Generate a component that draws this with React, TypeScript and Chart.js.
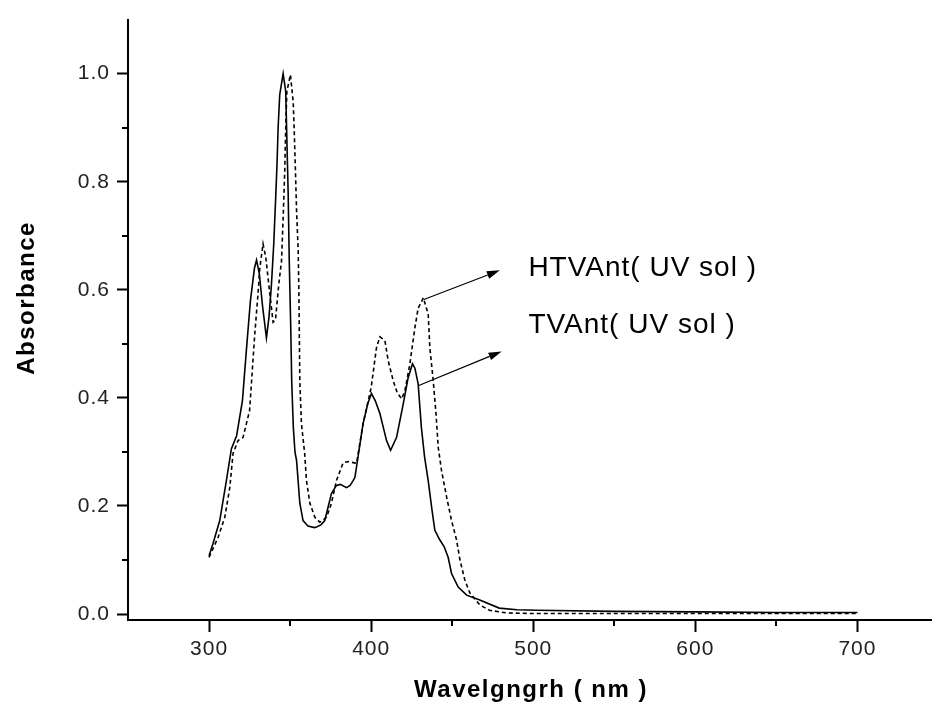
import React, { useEffect, useRef } from "react";
import { Chart, registerables } from "chart.js";

Chart.register(...registerables);

// TVAnt (solid line)
const tvWavelength = [
  300, 302.5, 306.6, 310.7, 313.8, 317, 320.6, 323, 325.5, 328, 329.3, 331, 333, 335.4, 337, 338.5,
  339.9, 341.2, 342, 342.6, 343.6, 345.7, 347.3, 348.8, 349.5, 350.4, 351, 352, 353, 354, 356, 358,
  361, 365, 366.3, 369, 371.4, 375.5, 378.6, 381, 384.8, 387, 388.9, 390, 395, 398, 400.2, 402.5,
  405.4, 409.5, 412, 415.7, 419.8, 422.8, 425.5, 427, 429, 431, 433, 435.2, 437.3, 439.3, 442.4, 445,
  447.5, 449.6, 453.7, 458.9, 467, 479, 490, 502, 550, 600, 650, 700,
];
const tvAbsorbance = [
  0.108, 0.131, 0.173, 0.247, 0.306, 0.33, 0.395, 0.487, 0.579, 0.64, 0.655, 0.63, 0.57, 0.511, 0.55, 0.61,
  0.684, 0.777, 0.838, 0.899, 0.961, 1.0, 0.967, 0.78, 0.65, 0.53, 0.43, 0.345, 0.3, 0.284, 0.205, 0.173,
  0.163, 0.16, 0.161, 0.165, 0.173, 0.223, 0.238, 0.24, 0.234, 0.238, 0.247, 0.253, 0.352, 0.39, 0.408, 0.395,
  0.371, 0.321, 0.303, 0.327, 0.389, 0.437, 0.463, 0.455, 0.426, 0.345, 0.29, 0.247, 0.198, 0.155, 0.137, 0.125,
  0.105, 0.075, 0.05, 0.035, 0.026, 0.011, 0.008, 0.007, 0.005, 0.004, 0.003, 0.003,
];

// HTVAnt (dashed line)
const htvWavelength = [
  300, 305.6, 309.7, 312.8, 314.8, 317.9, 321, 323, 325, 326.8, 328.2, 330.2, 331.3, 333.3, 335, 336.4,
  339.5, 341, 343, 344.7, 345.7, 346.7, 347.3, 348, 350.2, 351.9, 352.5, 353.3, 354, 355, 355.4, 356,
  357, 359, 360.1, 362.2, 365.3, 368.3, 372.5, 375.5, 378.6, 382.7, 386, 391, 395, 400, 403.3, 405.4,
  408.5, 410.5, 413.6, 416, 418.8, 420.8, 423.9, 427, 429, 432.2, 435.2, 436.2, 438.3, 440, 441.4, 443.5,
  446.6, 449.6, 452.7, 454.8, 457.8, 460.9, 467, 473, 483.7, 500, 600, 700,
];
const htvAbsorbance = [
  0.105, 0.142, 0.179, 0.234, 0.297, 0.321, 0.327, 0.352, 0.376, 0.456, 0.518, 0.592, 0.64, 0.685, 0.66, 0.622,
  0.54, 0.545, 0.61, 0.653, 0.732, 0.82, 0.9, 0.967, 0.998, 0.948, 0.9, 0.82, 0.745, 0.672, 0.6, 0.43,
  0.352, 0.297, 0.247, 0.205, 0.179, 0.17, 0.179, 0.205, 0.247, 0.28, 0.282, 0.279, 0.352, 0.419, 0.493, 0.513,
  0.506, 0.469, 0.432, 0.41, 0.398, 0.413, 0.463, 0.53, 0.566, 0.585, 0.555, 0.493, 0.432, 0.371, 0.308, 0.264,
  0.216, 0.173, 0.137, 0.1, 0.063, 0.039, 0.017, 0.007, 0.002, 0.001, 0.001, 0.001,
];

const xMajorTicks = [300, 400, 500, 600, 700];
const xMinorTicks = [350, 450, 550, 650];
const yMajorTicks = [0, 0.2, 0.4, 0.6, 0.8, 1.0];
const yMinorTicks = [0.1, 0.3, 0.5, 0.7, 0.9];

const xTitle = "Wavelgngrh ( nm )";
const yTitle = "Absorbance";
const seriesLabels = ["TVAnt( UV sol )", "HTVAnt( UV sol )"];
const arrowFromX = [429, 432.5];
const arrowFromY = [0.4225, 0.582];
const arrowToX = [480.5, 479.4];
const arrowToY = [0.486, 0.636];
const labelX = [497, 497];
const labelY = [0.535, 0.64];

const FONT = '"Liberation Sans", Arial, sans-serif';

const spacingPlugin = {
  id: "tickLetterSpacing",
  beforeDraw(chart: any) {
    (chart.ctx as any).letterSpacing = "1px";
  },
};

const annotationPlugin = {
  id: "annotationsAndMinorTicks",
  afterDraw(chart: any) {
    const { ctx, scales, chartArea } = chart;
    const xs = scales.x;
    const ys = scales.y;
    ctx.save();
    ctx.strokeStyle = "#000";
    ctx.lineWidth = 2;
    // minor ticks
    xMinorTicks.forEach((v) => {
      const px = Math.round(xs.getPixelForValue(v));
      ctx.beginPath();
      ctx.moveTo(px, chartArea.bottom);
      ctx.lineTo(px, chartArea.bottom + 6);
      ctx.stroke();
    });
    yMinorTicks.forEach((v) => {
      const py = Math.round(ys.getPixelForValue(v));
      ctx.beginPath();
      ctx.moveTo(chartArea.left - 6, py);
      ctx.lineTo(chartArea.left, py);
      ctx.stroke();
    });
    // arrows
    ctx.lineWidth = 1.2;
    ctx.fillStyle = "#000";
    for (let i = 0; i < arrowFromX.length; i++) {
      const x1 = xs.getPixelForValue(arrowFromX[i]);
      const y1 = ys.getPixelForValue(arrowFromY[i]);
      const x2 = xs.getPixelForValue(arrowToX[i]);
      const y2 = ys.getPixelForValue(arrowToY[i]);
      const ang = Math.atan2(y2 - y1, x2 - x1);
      const len = 13;
      const hw = 4;
      const bx = x2 - len * Math.cos(ang);
      const by = y2 - len * Math.sin(ang);
      ctx.beginPath();
      ctx.moveTo(x1, y1);
      ctx.lineTo(bx, by);
      ctx.stroke();
      ctx.beginPath();
      ctx.moveTo(x2, y2);
      ctx.lineTo(bx + hw * Math.sin(ang), by - hw * Math.cos(ang));
      ctx.lineTo(bx - hw * Math.sin(ang), by + hw * Math.cos(ang));
      ctx.closePath();
      ctx.fill();
    }
    // series labels
    ctx.font = `28px ${FONT}`;
    (ctx as any).letterSpacing = "1px";
    ctx.textAlign = "left";
    ctx.textBaseline = "middle";
    for (let i = 0; i < seriesLabels.length; i++) {
      ctx.fillText(seriesLabels[i], xs.getPixelForValue(labelX[i]), ys.getPixelForValue(labelY[i]));
    }
    // axis titles
    ctx.font = `bold 24px ${FONT}`;
    (ctx as any).letterSpacing = "1.5px";
    ctx.textAlign = "center";
    ctx.textBaseline = "middle";
    ctx.fillText(xTitle, (chartArea.left + chartArea.right) / 2 + 1, 690);
    ctx.translate(27, 298);
    ctx.rotate(-Math.PI / 2);
    ctx.fillText(yTitle, 0, 0);
    ctx.restore();
  },
};

export default function App() {
  const canvasRef = useRef<HTMLCanvasElement | null>(null);

  useEffect(() => {
    const canvas = canvasRef.current;
    if (!canvas) return;
    const tickFont = { family: FONT, size: 21 };
    const chart = new Chart(canvas, {
      type: "line",
      data: {
        datasets: [
          {
            label: seriesLabels[0],
            data: tvWavelength.map((x, i) => ({ x, y: tvAbsorbance[i] })),
            borderColor: "#000",
            borderWidth: 1.6,
            pointRadius: 0,
            tension: 0,
            fill: false,
          },
          {
            label: seriesLabels[1],
            data: htvWavelength.map((x, i) => ({ x, y: htvAbsorbance[i] })),
            borderColor: "#000",
            borderWidth: 1.6,
            borderDash: [4, 3],
            pointRadius: 0,
            tension: 0,
            fill: false,
          },
        ],
      },
      options: {
        animation: false,
        responsive: false,
        devicePixelRatio: 1,
        layout: { padding: { top: 18, right: 0, left: 0, bottom: 0 } },
        plugins: { legend: { display: false }, tooltip: { enabled: false } },
        scales: {
          x: {
            type: "linear",
            min: 250,
            max: 746,
            afterBuildTicks: (s: any) => {
              s.ticks = xMajorTicks.map((v) => ({ value: v }));
            },
            afterFit: (s: any) => {
              s.height = 93;
            },
            grid: { drawOnChartArea: false, drawTicks: true, tickLength: 12, tickWidth: 2, tickColor: "#000" },
            border: { display: true, color: "#000", width: 2 },
            ticks: { padding: 5, font: tickFont, color: "#222", maxRotation: 0, autoSkip: false },
            title: { display: false },
          },
          y: {
            type: "linear",
            min: -0.011,
            max: 1.1,
            afterBuildTicks: (s: any) => {
              s.ticks = yMajorTicks.map((v) => ({ value: v }));
            },
            afterFit: (s: any) => {
              s.width = 128;
            },
            grid: { drawOnChartArea: false, drawTicks: true, tickLength: 11, tickWidth: 2, tickColor: "#000" },
            border: { display: true, color: "#000", width: 2 },
            ticks: { padding: 7, font: tickFont, color: "#222", callback: (v: any) => Number(v).toFixed(1) },
            title: { display: false },
          },
        },
      },
      plugins: [spacingPlugin, annotationPlugin],
    });
    return () => chart.destroy();
  }, []);

  return (
    <div style={{ position: "absolute", left: 0, top: 0, width: 932, height: 713, background: "#fff" }}>
      <canvas ref={canvasRef} width={932} height={713} style={{ display: "block" }} />
    </div>
  );
}
